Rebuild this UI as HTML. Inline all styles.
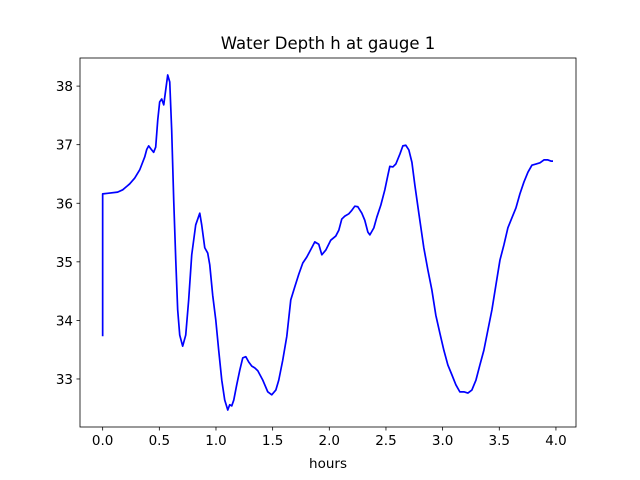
<!DOCTYPE html>
<html><head><meta charset="utf-8"><style>
html,body{margin:0;padding:0;background:#fff;}
svg{display:block;font-family:"DejaVu Sans","Liberation Sans",sans-serif;}
</style></head><body>
<svg id="chart" width="640" height="480">
<rect x="0" y="0" width="640" height="480" fill="#fff"/>
<text x="328" y="49" text-anchor="middle" font-size="16.5">Water Depth h at gauge 1</text>
<g id="plot"></g>
<text x="328" y="468" text-anchor="middle" font-size="13.5">hours</text>
</svg>
<script>
const hours=[0,0,0.044,0.132,0.177,0.238,0.283,0.327,0.371,0.389,0.406,0.433,0.450,0.468,0.486,0.503,0.521,0.539,0.556,0.574,0.592,0.609,0.627,0.645,0.662,0.680,0.706,0.733,0.759,0.786,0.821,0.857,0.874,0.901,0.927,0.945,0.971,0.998,1.024,1.051,1.077,1.104,1.121,1.139,1.157,1.183,1.210,1.236,1.263,1.289,1.316,1.342,1.369,1.413,1.457,1.492,1.528,1.554,1.589,1.625,1.660,1.695,1.731,1.766,1.801,1.845,1.872,1.907,1.934,1.969,2.013,2.057,2.084,2.110,2.137,2.172,2.199,2.225,2.252,2.287,2.313,2.340,2.358,2.393,2.419,2.455,2.490,2.517,2.534,2.561,2.587,2.623,2.649,2.675,2.702,2.729,2.755,2.790,2.834,2.870,2.905,2.940,2.976,3.011,3.046,3.082,3.117,3.152,3.188,3.223,3.258,3.294,3.329,3.364,3.400,3.435,3.470,3.506,3.541,3.576,3.611,3.647,3.682,3.717,3.753,3.788,3.823,3.859,3.894,3.929,3.956,3.974];
const depth=[33.73,36.16,36.17,36.19,36.23,36.33,36.43,36.57,36.79,36.92,36.98,36.91,36.87,36.96,37.42,37.73,37.78,37.68,37.93,38.19,38.07,37.25,36.05,35.03,34.18,33.75,33.56,33.75,34.35,35.12,35.63,35.83,35.63,35.24,35.15,34.95,34.43,34.01,33.49,32.98,32.64,32.47,32.56,32.54,32.64,32.90,33.15,33.36,33.38,33.29,33.22,33.19,33.14,32.98,32.78,32.73,32.81,32.98,33.32,33.73,34.35,34.57,34.79,34.98,35.08,35.24,35.34,35.30,35.12,35.20,35.37,35.44,35.54,35.73,35.78,35.82,35.88,35.95,35.94,35.83,35.71,35.51,35.46,35.58,35.76,35.97,36.23,36.48,36.63,36.62,36.67,36.84,36.98,36.99,36.91,36.70,36.31,35.83,35.24,34.86,34.52,34.09,33.78,33.49,33.24,33.07,32.90,32.78,32.78,32.76,32.81,32.98,33.24,33.49,33.84,34.18,34.60,35.03,35.29,35.58,35.75,35.92,36.16,36.36,36.53,36.65,36.67,36.69,36.74,36.74,36.72,36.72];
const xTicks=[0,0.5,1,1.5,2,2.5,3,3.5,4];
const xTickLabels=["0.0","0.5","1.0","1.5","2.0","2.5","3.0","3.5","4.0"];
const yTicks=[33,34,35,36,37,38];
const yTickLabels=["33","34","35","36","37","38"];

const L=80,R=576,T=58,B=427;
const xMin=-0.2,xMax=4.177,yMin=32.18,yMax=38.48;
const sx=v=>L+(v-xMin)/(xMax-xMin)*(R-L);
const sy=v=>B-(v-yMin)/(yMax-yMin)*(B-T);
const NS="http://www.w3.org/2000/svg";
const g=document.getElementById('plot');
function mk(t,a){const e=document.createElementNS(NS,t);for(const k in a)e.setAttribute(k,a[k]);g.appendChild(e);return e;}

xTicks.forEach((v,i)=>{
  const x=sx(v);
  const t=mk('line',{x1:x,x2:x,y1:B,y2:B+3.5,stroke:'#000','stroke-width':0.8});
  
  
  const l=mk('text',{x:x,y:B+18,'text-anchor':'middle','font-size':13.5});
  l.textContent=xTickLabels[i];
  
  
});
yTicks.forEach((v,i)=>{
  const y=sy(v);
  const t=mk('line',{x1:L-3.5,x2:L,y1:y,y2:y,stroke:'#000','stroke-width':0.8});
  
  
  const l=mk('text',{x:L-7,y:y+5,'text-anchor':'end','font-size':13.5});
  l.textContent=yTickLabels[i];
  
  
});
const pts=hours.map((h,i)=>sx(h).toFixed(2)+','+sy(depth[i]).toFixed(2)).join(' ');
const line=mk('polyline',{points:pts,fill:'none',stroke:'#0000ff','stroke-width':1.7,'stroke-linejoin':'round'});


const fr=mk('rect',{x:L,y:T,width:R-L,height:B-T,fill:'none',stroke:'#000','stroke-width':0.8});


</script>
</body></html>
